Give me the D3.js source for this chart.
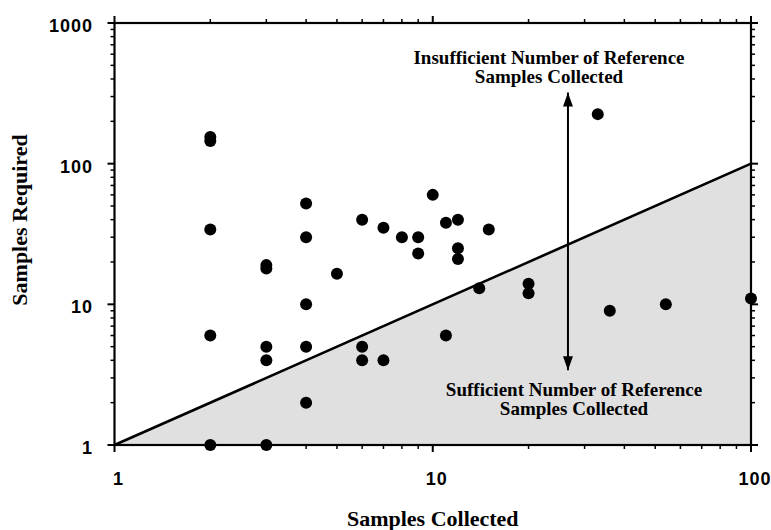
<!DOCTYPE html>
<html>
<head>
<meta charset="utf-8">
<script src="https://cdn.jsdelivr.net/npm/d3@7/dist/d3.min.js"></script>
<style>
  body { margin: 0; background: #fff; }
  svg { display: block; }
</style>
</head>
<body>
<svg id="chart"></svg>
<script>
// data
const samplesCollected = [2, 2, 2, 2, 2, 3, 3, 3, 3, 3, 4, 4, 4, 4, 4, 5, 6, 6, 6, 7, 7, 8, 9, 9, 10, 11, 11, 12, 12, 12, 14, 15, 20, 20, 33, 36, 54, 100];
const samplesRequired = [155, 145, 34, 6, 1, 19, 18, 5, 4, 1, 52, 30, 10, 5, 2, 16.5, 40, 5, 4, 35, 4, 30, 30, 23, 60, 38, 6, 40, 25, 21, 13, 34, 14, 12, 225, 9, 10, 11];

// the line where required == collected
const boundaryX = [1, 100];
const boundaryY = [1, 100];

// double arrow
const arrowX = 26.6;
const arrowY = [320, 3.4];

const xTickLabels = ["1", "10", "100"];
const yTickLabels = ["1", "10", "100", "1000"];

const topText = ["Insufficient Number of Reference", "Samples Collected"];
const bottomText = ["Sufficient Number of Reference", "Samples Collected"];

const WIDTH = 771, HEIGHT = 530;
const MARGIN = { left: 114.5, right: 20, top: 23, bottom: 85 };

const svg = d3.select("#chart")
  .attr("width", WIDTH)
  .attr("height", HEIGHT);

const x = d3.scaleLog().domain([1, 100]).range([MARGIN.left, WIDTH - MARGIN.right]);
const y = d3.scaleLog().domain([1, 1000]).range([HEIGHT - MARGIN.bottom, MARGIN.top]);

const serif = "'Liberation Serif', 'Times New Roman', serif";
const sans = "'Liberation Sans', Arial, sans-serif";

// shaded region below the line
const region = [[boundaryX[0], boundaryY[0]], [boundaryX[1], boundaryY[1]], [boundaryX[1], 1]];
svg.append("path")
  .attr("d", d3.line().x(d => x(d[0])).y(d => y(d[1]))(region) + "Z")
  .attr("fill", "#e0e0e0");

// ticks on all four sides
const minorX = [];
const minorY = [];
for (let e = 0; e < 3; e++) {
  for (let m = 2; m <= 9; m++) {
    if (e < 2) minorX.push(m * Math.pow(10, e));
    minorY.push(m * Math.pow(10, e));
  }
}
const majorX = [1, 10, 100];
const majorY = [1, 10, 100, 1000];

const ticks = svg.append("g").attr("stroke", "#000");
function tickSet(vals, len, w) {
  vals.forEach(v => {
    ticks.append("line").attr("x1", x(v)).attr("x2", x(v))
      .attr("y1", y(1)).attr("y2", y(1) + len).attr("stroke-width", w);
    ticks.append("line").attr("x1", x(v)).attr("x2", x(v))
      .attr("y1", y(1000)).attr("y2", y(1000) - len).attr("stroke-width", w);
  });
}
function tickSetY(vals, len, w) {
  vals.forEach(v => {
    ticks.append("line").attr("y1", y(v)).attr("y2", y(v))
      .attr("x1", x(1)).attr("x2", x(1) - len).attr("stroke-width", w);
    ticks.append("line").attr("y1", y(v)).attr("y2", y(v))
      .attr("x1", x(100)).attr("x2", x(100) + len).attr("stroke-width", w);
  });
}
tickSet(minorX, 4, 1.5);
tickSet(majorX, 7, 2);
tickSetY(minorY, 4, 1.5);
tickSetY(majorY, 7, 2);

// frame
svg.append("rect")
  .attr("x", x(1)).attr("y", y(1000))
  .attr("width", x(100) - x(1)).attr("height", y(1) - y(1000))
  .attr("fill", "none").attr("stroke", "#000").attr("stroke-width", 2.2);

// boundary line
svg.append("line")
  .attr("x1", x(boundaryX[0])).attr("y1", y(boundaryY[0]))
  .attr("x2", x(boundaryX[1])).attr("y2", y(boundaryY[1]))
  .attr("stroke", "#000").attr("stroke-width", 2.6);

// arrow
const defs = svg.append("defs");
defs.append("marker")
  .attr("id", "head")
  .attr("viewBox", "0 0 14 10")
  .attr("refX", 14).attr("refY", 5)
  .attr("markerWidth", 14).attr("markerHeight", 10)
  .attr("markerUnits", "userSpaceOnUse")
  .attr("orient", "auto-start-reverse")
  .append("path").attr("d", "M0,0 L14,5 L0,10 Z").attr("fill", "#000");

svg.append("line")
  .attr("x1", x(arrowX)).attr("x2", x(arrowX))
  .attr("y1", y(arrowY[0])).attr("y2", y(arrowY[1]))
  .attr("stroke", "#000").attr("stroke-width", 2)
  .attr("marker-start", "url(#head)")
  .attr("marker-end", "url(#head)");

// points
svg.append("g")
  .selectAll("circle")
  .data(samplesCollected.map((c, i) => [c, samplesRequired[i]]))
  .join("circle")
  .attr("cx", d => x(d[0]))
  .attr("cy", d => y(d[1]))
  .attr("r", 6)
  .attr("fill", "#000");

// tick labels
svg.append("g")
  .selectAll("text")
  .data(xTickLabels)
  .join("text")
  .attr("x", d => x(+d) + 4)
  .attr("y", 485)
  .attr("text-anchor", "middle")
  .style("font-family", sans)
  .style("font-weight", "bold")
  .style("font-size", "18px")
  .style("letter-spacing", "1px")
  .text(d => d);

svg.append("g")
  .selectAll("text")
  .data(yTickLabels)
  .join("text")
  .attr("x", 93)
  .attr("y", d => y(+d) + 9)
  .attr("text-anchor", "end")
  .style("font-family", sans)
  .style("font-weight", "bold")
  .style("font-size", "18px")
  .style("letter-spacing", "1px")
  .text(d => d);

// annotations
function block(lines, cx, y0) {
  svg.append("g")
    .selectAll("text")
    .data(lines)
    .join("text")
    .attr("x", cx)
    .attr("y", (d, i) => y0 + i * 19)
    .attr("text-anchor", "middle")
    .style("font-family", serif)
    .style("font-weight", "bold")
    .style("font-size", "19px")
    .text(d => d);
}
block(topText, 549, 64);
block(bottomText, 574, 396);

// axis titles
svg.append("text")
  .attr("x", x(10))
  .attr("y", 526)
  .attr("text-anchor", "middle")
  .style("font-family", serif)
  .style("font-weight", "bold")
  .style("font-size", "22px")
  .text("Samples Collected");

svg.append("text")
  .attr("transform", "translate(27,220) rotate(-90)")
  .attr("text-anchor", "middle")
  .style("font-family", serif)
  .style("font-weight", "bold")
  .style("font-size", "22px")
  .text("Samples Required");
</script>
</body>
</html>
